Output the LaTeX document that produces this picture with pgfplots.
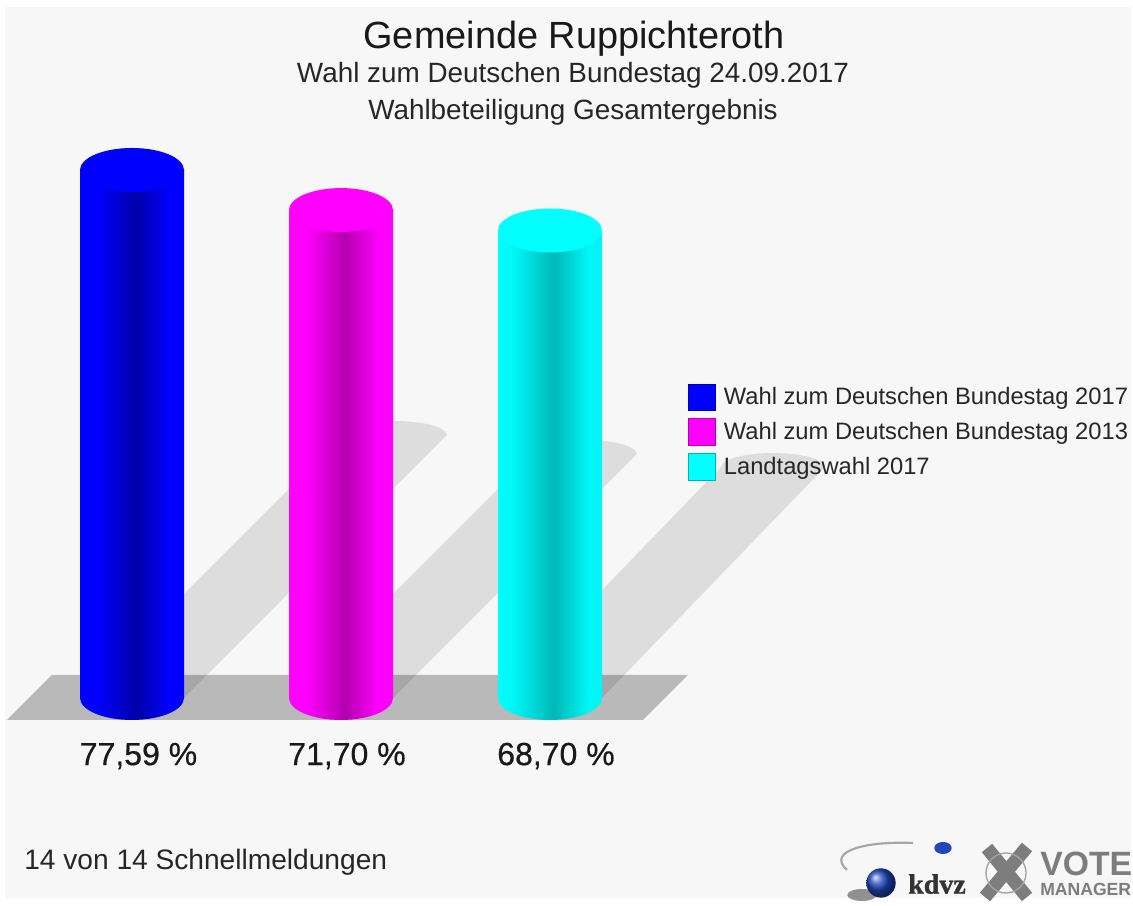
\documentclass[border=0pt]{standalone}
\usepackage{pgfplots}
\pgfplotsset{compat=1.18}
\usepackage{fontspec}
\setmainfont{Liberation Sans}
\newfontfamily\serifbold{Liberation Serif}[Scale=1]
\definecolor{bg}{RGB}{247,247,247}
\definecolor{floorc}{RGB}{185,185,185}
\definecolor{pblue}{RGB}{0,0,255}
\definecolor{pmag}{RGB}{255,0,255}
\definecolor{pcya}{RGB}{0,255,255}
\definecolor{logogray}{RGB}{125,125,125}
\definecolor{ballblue}{RGB}{30,70,190}
\pgfdeclarehorizontalshading{cylblue}{100bp}{rgb(0bp)=(0,0,1);rgb(25bp)=(0,0,1);rgb(33bp)=(0,0,1);rgb(52bp)=(0,0,0.66);rgb(68bp)=(0,0,1);rgb(100bp)=(0,0,1)}
\pgfdeclarehorizontalshading{cylmag}{100bp}{rgb(0bp)=(1,0,1);rgb(25bp)=(1,0,1);rgb(33bp)=(1,0,1);rgb(52bp)=(0.70,0,0.68);rgb(68bp)=(1,0,1);rgb(100bp)=(1,0,1)}
\pgfdeclarehorizontalshading{cylcya}{100bp}{rgb(0bp)=(0,1,1);rgb(25bp)=(0,1,1);rgb(33bp)=(0,0.96,0.96);rgb(52bp)=(0,0.72,0.72);rgb(68bp)=(0,0.96,0.96);rgb(100bp)=(0,1,1)}
\pgfdeclareplotmark{capblue}{\pgfpathellipse{\pgfpointorigin}{\pgfqpoint{39pt}{0pt}}{\pgfqpoint{0pt}{16.5pt}}\pgfshadepath{cylblue}{0}\pgfusepath{discard}}
\pgfdeclareplotmark{capmag}{\pgfpathellipse{\pgfpointorigin}{\pgfqpoint{39pt}{0pt}}{\pgfqpoint{0pt}{16.5pt}}\pgfshadepath{cylmag}{0}\pgfusepath{discard}}
\pgfdeclareplotmark{capcya}{\pgfpathellipse{\pgfpointorigin}{\pgfqpoint{39pt}{0pt}}{\pgfqpoint{0pt}{16.5pt}}\pgfshadepath{cylcya}{0}\pgfusepath{discard}}
\pgfdeclareplotmark{lid}{\pgfpathellipse{\pgfpointorigin}{\pgfqpoint{39pt}{0pt}}{\pgfqpoint{0pt}{16.5pt}}\pgfusepathqfill}
\newcommand{\px}[2]{(axis cs:#1,{(698-(#2))/6.805})}
\begin{document}
\begin{tikzpicture}
\begin{axis}[
  hide axis, scale only axis, clip=false,
  x=0.75pt, y=5.10375pt,
  xmin=0, xmax=1133, ymin=-30.566, ymax=102.572,
  legend cell align=left,
  legend style={draw=none, fill=none, at={(axis cs:688,46.2)}, anchor=north west,
    font=\fontsize{17.8}{20}\selectfont, text=black!85, row sep=5.5pt, inner sep=0pt, outer sep=0pt,
    nodes={inner xsep=0.6pt, inner ysep=1.2pt}},
  legend image code/.code={\path[fill=none,draw=none] (0pt,-10pt) rectangle (26pt,10pt);\draw[#1] (0pt,-10pt) rectangle (20.5pt,10pt);},
]
\fill[white] \px{0}{0} rectangle \px{1133}{906};
\fill[bg] \px{5}{7} rectangle \px{1131}{898};
% floor
\addplot[fill=floorc, draw=none, forget plot] coordinates {(7,-3.233) (52,3.380) (688,3.380) (643,-3.233)} -- cycle;
% shadows
\addplot[fill=black, fill opacity=0.10, draw=none, forget plot] coordinates {
 (80,0) (184,0) (447,38.65) (445.2,39.18) (440,39.68) (431.8,40.10) (421,40.43) (408.5,40.64) (395,40.71) (381.5,40.64) (369,40.43) (358.2,40.10) (350,39.68) (344.8,39.18) (343,38.65)} -- cycle;
\addplot[fill=black, fill opacity=0.10, draw=none, forget plot] coordinates {
 (289,0) (393,0) (637,35.86) (635.2,36.39) (630,36.89) (621.8,37.31) (611,37.64) (598.5,37.85) (585,37.92) (571.5,37.85) (559,37.64) (548.2,37.31) (540,36.89) (534.8,36.39) (533,35.86)} -- cycle;
\addplot[fill=black, fill opacity=0.10, draw=none, forget plot] coordinates {
 (498,0) (602,0) (825,33.95) (823.2,34.48) (818,34.98) (809.8,35.40) (799,35.73) (786.5,35.94) (773,36.01) (759.5,35.94) (747,35.73) (736.2,35.40) (728,34.98) (722.8,34.48) (721,33.95)} -- cycle;
% cylinders
\addplot[ybar, bar width=78pt, bar shift=0pt, draw=none, shade, shading=cylblue, forget plot] coordinates {(132,77.59)};
\addplot[only marks, mark=capblue, forget plot] coordinates {(132,0)};
\addplot[only marks, mark=lid, color=pblue, forget plot] coordinates {(132,77.59)};
\addplot[ybar, bar width=78pt, bar shift=0pt, draw=none, shade, shading=cylmag, forget plot] coordinates {(341,71.70)};
\addplot[only marks, mark=capmag, forget plot] coordinates {(341,0)};
\addplot[only marks, mark=lid, color=pmag, forget plot] coordinates {(341,71.70)};
\addplot[ybar, bar width=78pt, bar shift=0pt, draw=none, shade, shading=cylcya, forget plot] coordinates {(550,68.70)};
\addplot[only marks, mark=capcya, forget plot] coordinates {(550,0)};
\addplot[only marks, mark=lid, color=pcya, forget plot] coordinates {(550,68.70)};
% legend
\addlegendimage{fill=pblue, draw=pblue!70!black, line width=0.6pt}
\addlegendentry{Wahl zum Deutschen Bundestag 2017}
\addlegendimage{fill=pmag, draw=pmag!70!black, line width=0.6pt}
\addlegendentry{Wahl zum Deutschen Bundestag 2013}
\addlegendimage{fill=pcya, draw=pcya!70!black, line width=0.6pt}
\addlegendentry{Landtagswahl 2017}
% texts
\node[font=\fontsize{28.4}{32}\selectfont, text=black!90] at \px{574}{39} {Gemeinde Ruppichteroth};
\node[font=\fontsize{20.9}{24}\selectfont, text=black!85] at \px{573}{75} {Wahl zum Deutschen Bundestag 24.09.2017};
\node[font=\fontsize{20.9}{24}\selectfont, text=black!85] at \px{573}{112} {Wahlbeteiligung Gesamtergebnis};
\node[font=\fontsize{24}{28}\selectfont, text=black!90] at \px{138.5}{756} {\addfontfeature{FakeBold=0.5}77,59 \%};
\node[font=\fontsize{24}{28}\selectfont, text=black!90] at \px{347}{756} {\addfontfeature{FakeBold=0.5}71,70 \%};
\node[font=\fontsize{24}{28}\selectfont, text=black!90] at \px{556}{756} {\addfontfeature{FakeBold=0.5}68,70 \%};
\node[anchor=west, inner sep=0pt, font=\fontsize{21.1}{24}\selectfont, text=black!85] at \px{24}{862} {14 von 14 Schnellmeldungen};
% logos
\draw[gray!70, line width=1.6pt] \px{913}{843} .. controls \px{870}{841} and \px{825}{850} .. \px{847}{870};
\fill[ballblue] \px{943}{848} ellipse [x radius=6.5pt, y radius=4.5pt];
\fill[black!70, opacity=.6] \px{862}{895} ellipse [x radius=11pt, y radius=4.5pt];
\shade[ball color=ballblue] \px{881}{883} circle [radius=11pt];
\node[font=\fontsize{21}{22}\selectfont\bfseries\serifbold, text=black!80] at \px{937}{884} {\addfontfeature{FakeBold=1}kdvz};
\draw[logogray, line width=10pt] \px{987}{848} -- \px{1027}{897};
\draw[logogray, line width=10pt] \px{1027}{847} -- \px{985}{897};
\draw[logogray!70, line width=1pt] \px{1006}{873} circle [radius=15pt];
\node[anchor=west, inner sep=0pt, font=\fontsize{25.3}{28}\bfseries\selectfont, text=logogray] at \px{1040}{864} {VOTE};
\node[anchor=west, inner sep=0pt, font=\fontsize{13.2}{14}\bfseries\selectfont, text=logogray] at \px{1040}{889} {MANAGER};
\end{axis}
\end{tikzpicture}
\end{document}
